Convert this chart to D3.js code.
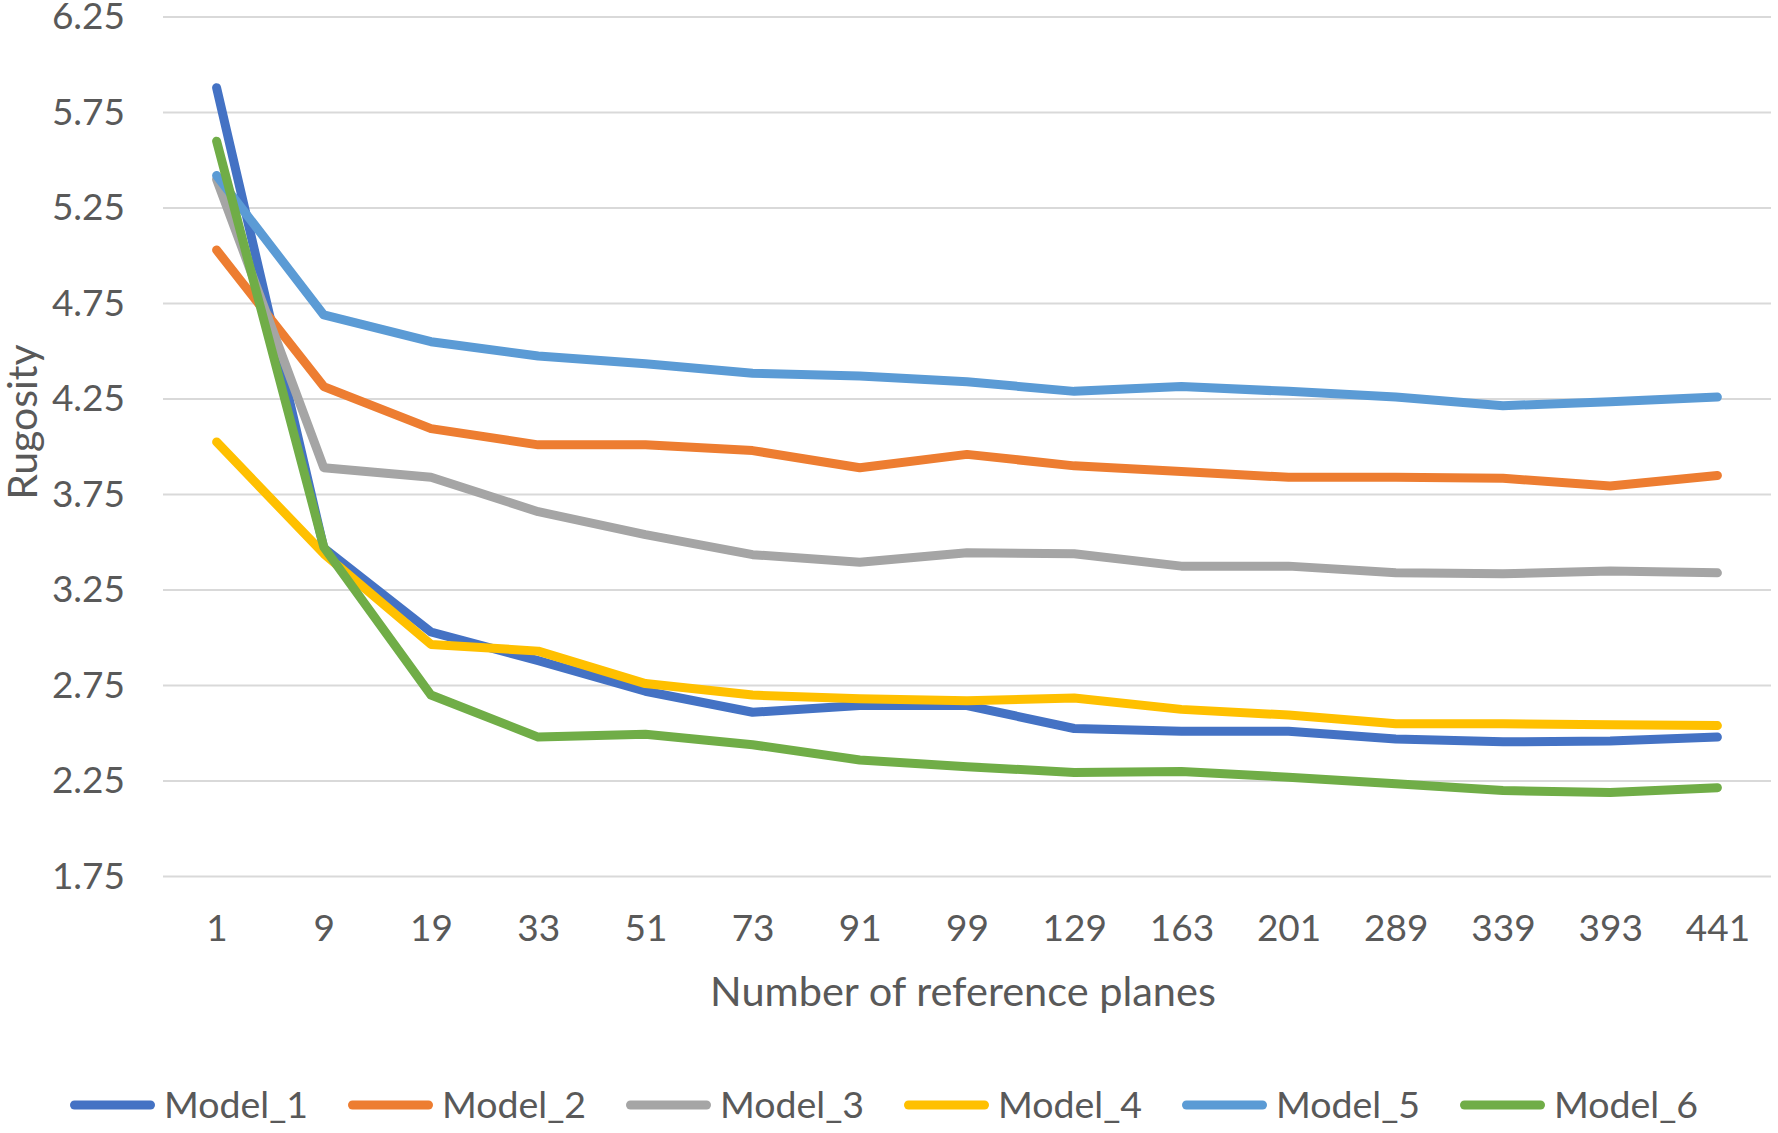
<!DOCTYPE html>
<html>
<head>
<meta charset="utf-8">
<script src="https://cdn.jsdelivr.net/npm/d3@7"></script>
<style>
  html, body { margin: 0; padding: 0; background: #fff; }
  svg { display: block; }
  text { font-family: Lato, "Open Sans", sans-serif; fill: #595959; }
</style>
</head>
<body>
<svg id="chart" width="1778" height="1133"></svg>
<script>
const categories = ["1","9","19","33","51","73","91","99","129","163","201","289","339","393","441"];
const seriesNames = ["Model_1","Model_2","Model_3","Model_4","Model_5","Model_6"];
const model1 = [5.88, 3.47, 3.03, 2.88, 2.72, 2.61, 2.645, 2.645, 2.525, 2.51, 2.51, 2.47, 2.455, 2.46, 2.48];
const model2 = [5.03, 4.315, 4.095, 4.01, 4.01, 3.98, 3.89, 3.96, 3.90, 3.87, 3.84, 3.84, 3.835, 3.795, 3.85];
const model3 = [5.40, 3.89, 3.84, 3.66, 3.54, 3.435, 3.395, 3.445, 3.44, 3.375, 3.375, 3.34, 3.335, 3.35, 3.34];
const model4 = [4.025, 3.44, 2.965, 2.93, 2.76, 2.70, 2.68, 2.67, 2.685, 2.625, 2.595, 2.55, 2.55, 2.545, 2.54];
const model5 = [5.42, 4.69, 4.55, 4.475, 4.435, 4.385, 4.37, 4.34, 4.29, 4.315, 4.29, 4.26, 4.215, 4.235, 4.26];
const model6 = [5.60, 3.475, 2.70, 2.48, 2.495, 2.44, 2.36, 2.325, 2.295, 2.30, 2.27, 2.235, 2.20, 2.19, 2.215];
const yTicks = [1.75, 2.25, 2.75, 3.25, 3.75, 4.25, 4.75, 5.25, 5.75, 6.25];
const colors = ["#4472C4", "#ED7D31", "#A5A5A5", "#FFC000", "#5B9BD5", "#70AD47"];
const xTitle = "Number of reference planes";
const yTitle = "Rugosity";

const series = seriesNames.map((name, i) => ({
  name, color: colors[i],
  values: [model1, model2, model3, model4, model5, model6][i]
}));

const svg = d3.select("#chart");
const plotLeft = 163, plotRight = 1771, plotTop = 17, plotBottom = 876.5;

const x = d3.scalePoint().domain(categories).range([plotLeft, plotRight]).padding(0.5);
const y = d3.scaleLinear().domain([1.75, 6.25]).range([plotBottom, plotTop]);

// gridlines
svg.append("g").selectAll("line").data(yTicks).join("line")
  .attr("x1", plotLeft).attr("x2", plotRight)
  .attr("y1", d => y(d)).attr("y2", d => y(d))
  .attr("stroke", "#d9d9d9").attr("stroke-width", 2);

// y axis
const yAxis = svg.append("g").attr("transform", `translate(${plotLeft},0)`)
  .call(d3.axisLeft(y).tickValues(yTicks).tickFormat(d3.format(".2f")).tickSize(0).tickPadding(38));
yAxis.select(".domain").remove();
yAxis.selectAll("text").style("font-size", "37px").style("font-family", "Lato, sans-serif").attr("fill", "#595959");

// x axis
const xAxis = svg.append("g").attr("transform", `translate(0,${plotBottom})`)
  .call(d3.axisBottom(x).tickSize(0).tickPadding(0));
xAxis.select(".domain").remove();
xAxis.selectAll("text").style("font-size", "37px").style("font-family", "Lato, sans-serif")
  .attr("fill", "#595959").attr("dy", null).attr("y", 64);

// axis titles
svg.append("text").attr("x", (plotLeft + plotRight) / 2 - 4).attr("y", 1006)
  .attr("text-anchor", "middle").style("font-size", "41.5px").text(xTitle);
svg.append("text").attr("transform", "translate(37,422) rotate(-90)")
  .attr("text-anchor", "middle").style("font-size", "41px").text(yTitle);

// lines
const line = d3.line().x((d, i) => x(categories[i])).y(d => y(d));
svg.append("g").selectAll("path").data(series).join("path")
  .attr("d", d => line(d.values))
  .attr("fill", "none").attr("stroke", d => d.color)
  .attr("stroke-width", 9).attr("stroke-linecap", "round").attr("stroke-linejoin", "round");

// legend
const lg = svg.append("g").selectAll("g").data(series).join("g")
  .attr("transform", (d, i) => `translate(${70 + i * 278},1105)`);
lg.append("line").attr("x1", 4.5).attr("x2", 80.5).attr("y1", 0).attr("y2", 0)
  .attr("stroke", d => d.color).attr("stroke-width", 9).attr("stroke-linecap", "round");
lg.append("text").attr("x", 94).attr("y", 13).style("font-size", "37.5px").text(d => d.name);
</script>
</body>
</html>
